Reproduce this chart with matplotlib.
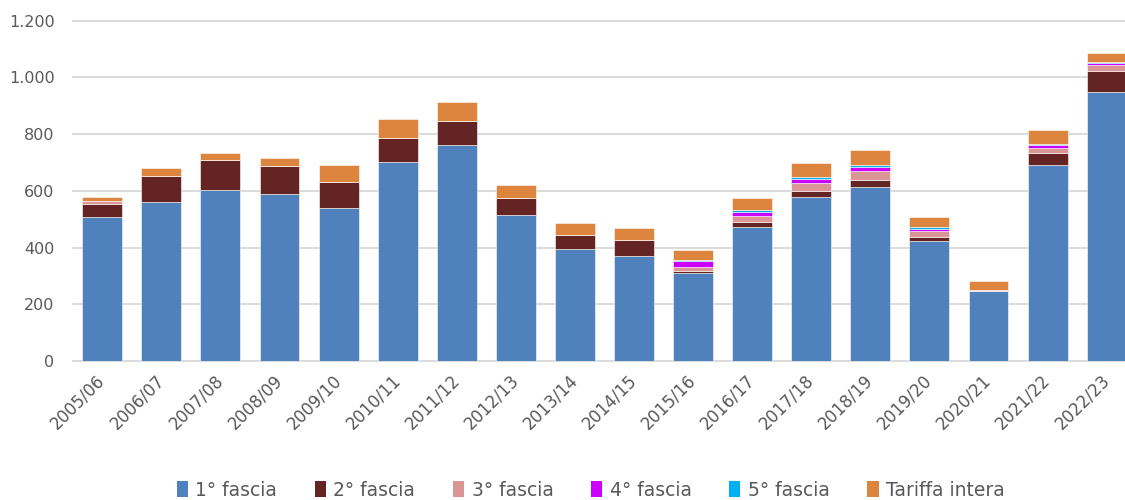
import matplotlib
matplotlib.use("Agg")
import matplotlib.pyplot as plt
from matplotlib.patches import Patch
from matplotlib.ticker import FuncFormatter
import numpy as np

# anni accademici
anni = ["2005/06", "2006/07", "2007/08", "2008/09", "2009/10", "2010/11",
        "2011/12", "2012/13", "2013/14", "2014/15", "2015/16", "2016/17",
        "2017/18", "2018/19", "2019/20", "2020/21", "2021/22", "2022/23"]

fascia1 = [508, 561, 604, 589, 541, 701, 762, 516, 394, 371, 309, 473, 577, 615, 423, 247, 691, 949]
fascia2 = [46, 92, 105, 99, 89, 87, 86, 59, 51, 56, 9, 18, 22, 24, 15, 0, 41, 75]
fascia3 = [11, 0, 0, 0, 0, 0, 0, 0, 0, 0, 14, 20, 29, 31, 20, 2, 20, 20]
fascia4 = [0, 0, 0, 0, 0, 0, 0, 0, 0, 0, 20, 16, 15, 15, 8, 2, 10, 8]
fascia5 = [0, 0, 0, 0, 0, 0, 0, 0, 0, 0, 4, 5, 6, 6, 5, 0, 3, 3]
tariffa = [14, 28, 26, 29, 62, 67, 67, 47, 43, 41, 35, 42, 50, 53, 38, 31, 50, 32]

serie = [fascia1, fascia2, fascia3, fascia4, fascia5, tariffa]
nomi = ["1° fascia", "2° fascia", "3° fascia", "4° fascia", "5° fascia", "Tariffa intera"]
colori = ["#4F81BD", "#632423", "#D99694", "#CC00FF", "#00B0F0", "#DD843F"]

grigio = "#595959"

fig = plt.figure(figsize=(11.25, 5), dpi=100)
ax = fig.add_axes([0.0646, 0.278, 0.9354, 0.6806])

x = np.arange(len(anni))
base = np.zeros(len(anni))
for vals, col in zip(serie, colori):
    ax.bar(x, vals, 0.676, bottom=base, color=col, edgecolor="white", linewidth=0.4, zorder=3)
    base = base + np.array(vals)

ax.set_ylim(0, 1200)
ax.set_xlim(-0.5, 17.31)
ax.set_yticks(range(0, 1201, 200))
ax.yaxis.set_major_formatter(FuncFormatter(lambda v, p: f"{int(v):,}".replace(",", ".")))
ax.grid(axis="y", color="#D9D9D9", linewidth=1.3, zorder=0)
for gl in ax.yaxis.get_gridlines():
    gl.set_clip_on(False)
for s in ax.spines.values():
    s.set_visible(False)

ax.set_xticks(x)
ax.set_xticklabels(anni, rotation=45, ha="right", va="center", rotation_mode="anchor")
ax.tick_params(axis="x", length=0, pad=12, labelsize=12, labelcolor=grigio)
ax.tick_params(axis="y", length=0, pad=13, labelsize=11.5, labelcolor=grigio)

handles = [Patch(facecolor=c) for c in colori]
fig.legend(handles, nomi, loc="center", bbox_to_anchor=(0.525, 0.02), ncol=6,
           frameon=False, fontsize=13.5, labelcolor=grigio,
           handlelength=0.6, handleheight=0.9, handletextpad=0.4, columnspacing=2.0)

fig.savefig("out.png", dpi=100)
